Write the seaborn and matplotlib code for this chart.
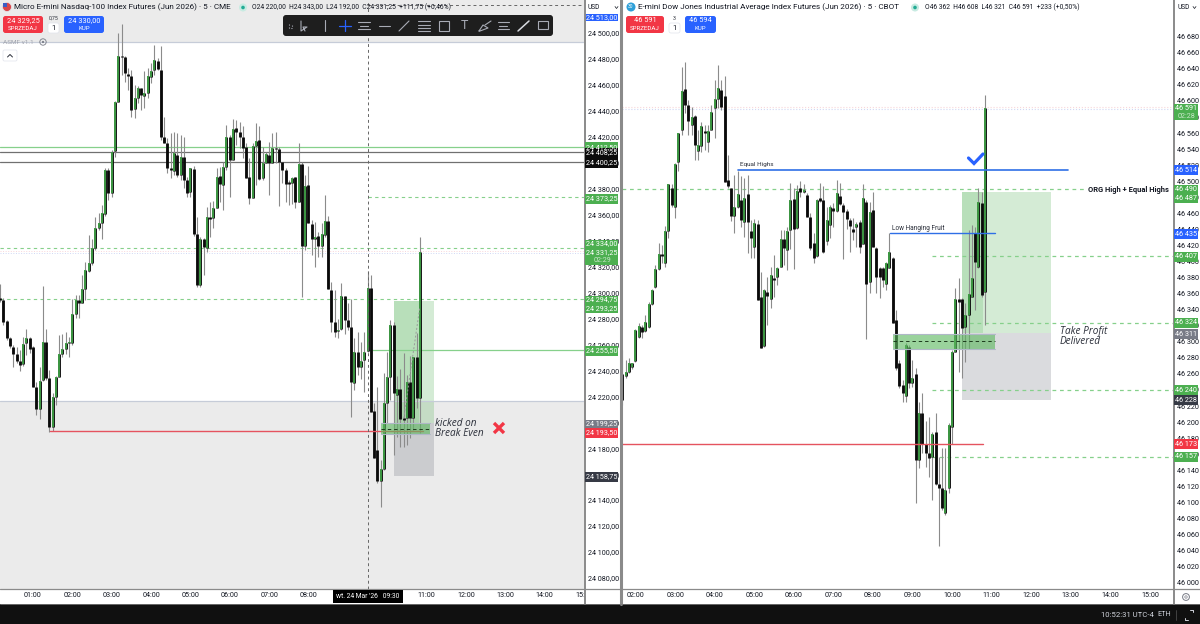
"""Two 5-minute futures charts side by side, with trade annotations."""

import matplotlib

matplotlib.use("Agg")

import matplotlib.pyplot as plt
import pandas as pd
import seaborn as sns
from matplotlib.patches import Circle, FancyBboxPatch, Rectangle

# Micro E-mini Nasdaq-100, bars start 00:10
nq_open = [24295.7, 24294.2, 24278.0, 24264.9, 24258.0, 24252.6, 24247.2, 24244.9, 24261.0, 24264.9,
           24258.0, 24227.2, 24210.2, 24232.5, 24261.8, 24234.1, 24196.3, 24219.4, 24234.8, 24252.6,
           24256.4, 24261.0, 24261.0, 24283.4, 24294.2, 24291.9, 24302.7, 24316.5, 24322.7, 24334.3,
           24349.7, 24353.5, 24360.5, 24394.4, 24376.7, 24409.0, 24446.8, 24482.2, 24481.5, 24468.4,
           24466.8, 24441.4, 24449.9, 24457.6, 24451.4, 24453.7, 24466.1, 24471.5, 24478.4, 24471.5,
           24419.8, 24415.2, 24395.9, 24393.6, 24405.9, 24390.5, 24404.4, 24386.7, 24377.4, 24395.1,
           24345.1, 24305.8, 24341.2, 24334.3, 24358.2, 24357.4, 24365.1, 24389.8, 24382.8, 24396.7,
           24419.8, 24402.1, 24426.7, 24423.7, 24419.8, 24412.1, 24389.0, 24372.8, 24412.9, 24417.5,
           24388.2, 24399.8, 24405.9, 24399.8, 24411.3, 24410.6, 24400.5, 24394.4, 24385.1, 24384.4,
           24389.0, 24369.7, 24399.0, 24335.8, 24382.8, 24352.8, 24341.2, 24343.5, 24335.8, 24344.3,
           24355.1, 24301.9, 24277.2, 24270.3, 24271.8, 24297.3, 24278.8, 24273.4, 24230.2, 24254.1,
           24242.6, 24247.9, 24254.9, 24303.4, 24208.6, 24178.6, 24154.7, 24163.9, 24214.8, 24234.8,
           24275.0, 24221.0, 24225.6, 24203.2, 24203.2, 24231.0, 24203.2, 24250.3, 24218.7]
nq_high = [24306.5, 24295.7, 24278.8, 24265.7, 24259.5, 24258.0, 24255.7, 24265.7, 24271.8, 24265.7,
           24258.7, 24231.0, 24242.6, 24305.0, 24271.8, 24240.2, 24222.5, 24235.6, 24267.2, 24268.0,
           24269.5, 24265.7, 24295.0, 24298.0, 24298.0, 24313.5, 24323.5, 24344.3, 24341.2, 24358.2,
           24361.2, 24367.4, 24395.9, 24395.9, 24409.8, 24447.6, 24500.0, 24506.9, 24482.2, 24473.0,
           24471.5, 24459.9, 24459.1, 24457.6, 24470.7, 24473.0, 24476.8, 24490.7, 24480.7, 24489.9,
           24435.2, 24419.0, 24422.9, 24423.7, 24422.9, 24421.4, 24419.8, 24389.0, 24395.9, 24397.5,
           24358.2, 24342.7, 24342.0, 24365.9, 24369.7, 24370.5, 24395.9, 24396.7, 24400.5, 24429.1,
           24421.4, 24433.7, 24432.9, 24431.4, 24428.3, 24415.2, 24403.6, 24415.2, 24430.6, 24428.3,
           24412.1, 24408.3, 24416.0, 24422.9, 24423.7, 24412.1, 24400.5, 24395.9, 24386.7, 24389.0,
           24389.0, 24415.2, 24400.5, 24390.5, 24397.5, 24355.8, 24354.3, 24346.6, 24353.5, 24375.1,
           24358.9, 24308.1, 24301.9, 24279.5, 24307.3, 24297.3, 24291.9, 24295.0, 24264.9, 24269.5,
           24261.8, 24269.5, 24316.5, 24313.5, 24214.8, 24227.2, 24170.9, 24237.9, 24254.1, 24278.8,
           24277.2, 24235.6, 24241.0, 24253.3, 24236.4, 24251.0, 24250.3, 24268.8, 24342.7]
nq_low = [24292.6, 24274.9, 24263.4, 24257.2, 24242.6, 24245.6, 24239.5, 24243.3, 24251.8, 24253.3,
          24227.2, 24205.6, 24202.5, 24231.8, 24232.5, 24192.5, 24193.2, 24213.3, 24234.8, 24250.3,
          24252.6, 24250.3, 24259.5, 24280.3, 24280.3, 24291.9, 24294.2, 24315.8, 24321.2, 24332.7,
          24348.1, 24341.2, 24358.9, 24371.3, 24373.6, 24404.4, 24446.8, 24467.6, 24462.2, 24456.0,
          24435.2, 24434.5, 24446.0, 24440.6, 24442.2, 24449.9, 24461.4, 24467.6, 24471.5, 24417.5,
          24415.2, 24392.1, 24388.2, 24390.5, 24389.0, 24386.7, 24380.5, 24373.6, 24373.6, 24343.5,
          24304.2, 24304.2, 24313.5, 24331.2, 24342.7, 24349.7, 24365.1, 24369.7, 24363.6, 24394.4,
          24373.6, 24402.1, 24413.6, 24411.3, 24403.6, 24388.2, 24368.2, 24372.8, 24382.8, 24386.7,
          24386.7, 24399.8, 24375.1, 24399.8, 24399.8, 24366.6, 24384.4, 24369.7, 24367.4, 24368.2,
          24365.1, 24369.7, 24296.5, 24332.7, 24353.5, 24328.9, 24319.6, 24327.3, 24327.3, 24342.7,
          24302.7, 24269.5, 24265.7, 24264.9, 24271.1, 24268.0, 24271.1, 24204.0, 24224.8, 24236.4,
          24233.3, 24223.3, 24254.1, 24207.9, 24172.4, 24153.2, 24134.7, 24163.2, 24199.4, 24217.1,
          24174.7, 24188.6, 24180.9, 24180.9, 24182.4, 24187.8, 24194.0, 24211.0, 24191.7]
nq_close = [24294.2, 24277.2, 24264.9, 24258.7, 24252.6, 24247.2, 24244.1, 24260.3, 24264.9, 24256.4,
            24227.2, 24210.2, 24231.8, 24261.8, 24234.1, 24196.3, 24219.4, 24234.8, 24252.6, 24256.4,
            24261.0, 24261.8, 24283.4, 24294.2, 24291.9, 24302.7, 24317.3, 24322.7, 24334.3, 24349.7,
            24353.5, 24361.2, 24394.4, 24376.7, 24408.3, 24446.8, 24482.2, 24481.5, 24469.1, 24466.8,
            24440.6, 24449.9, 24457.6, 24452.2, 24453.7, 24466.8, 24470.7, 24479.2, 24472.2, 24419.8,
            24415.2, 24395.9, 24394.4, 24407.5, 24390.5, 24404.4, 24386.7, 24376.7, 24395.9, 24345.1,
            24305.8, 24341.2, 24335.0, 24358.2, 24356.6, 24365.1, 24389.0, 24383.6, 24396.7, 24419.8,
            24402.1, 24426.0, 24423.7, 24419.8, 24411.3, 24388.2, 24372.8, 24412.9, 24416.7, 24387.4,
            24399.8, 24406.7, 24399.8, 24411.3, 24410.6, 24400.5, 24394.4, 24383.6, 24383.6, 24388.2,
            24369.7, 24399.0, 24335.8, 24382.1, 24353.5, 24341.2, 24342.7, 24335.8, 24345.1, 24355.1,
            24302.7, 24277.2, 24269.5, 24271.1, 24297.3, 24278.8, 24273.4, 24231.0, 24254.1, 24242.6,
            24247.2, 24254.1, 24303.4, 24207.9, 24172.4, 24154.7, 24163.9, 24214.8, 24234.8, 24275.0,
            24222.5, 24225.6, 24202.5, 24201.7, 24231.0, 24203.2, 24250.3, 24218.7, 24331.25]

# E-mini Dow, bars start 01:40
ym_open = [46228, 46257, 46262, 46269, 46276, 46306, 46318, 46313, 46318, 46347, 46368, 46391, 46409, 46398,
           46438, 46492, 46468, 46524, 46564, 46615, 46595, 46570, 46581, 46538, 46544, 46563, 46549, 46564,
           46591, 46603, 46614, 46606, 46502, 46492, 46457, 46468, 46477, 46449, 46484, 46438, 46418, 46447,
           46356, 46295, 46362, 46353, 46380, 46381, 46393, 46428, 46414, 46439, 46478, 46442, 46492, 46487,
           46483, 46455, 46423, 46407, 46479, 46477, 46426, 46445, 46467, 46463, 46482, 46470, 46463, 46452,
           46440, 46443, 46449, 46422, 46474, 46375, 46464, 46417, 46392, 46392, 46372, 46392, 46404, 46327,
           46274, 46246, 46233, 46294, 46249, 46260, 46153, 46211, 46173, 46162, 46157, 46188, 46123, 46118,
           46087, 46118, 46194, 46287, 46353, 46353, 46318, 46333, 46356, 46436, 46393, 46473, 46362]
ym_high = [46290, 46277, 46280, 46274, 46316, 46323, 46321, 46333, 46350, 46366, 46396, 46423, 46421, 46444,
           46497, 46497, 46523, 46560, 46642, 46649, 46601, 46593, 46583, 46564, 46574, 46570, 46570, 46595,
           46626, 46645, 46626, 46631, 46533, 46492, 46508, 46513, 46507, 46504, 46508, 46452, 46453, 46452,
           46387, 46366, 46381, 46393, 46408, 46393, 46439, 46439, 46443, 46498, 46492, 46495, 46500, 46497,
           46485, 46460, 46435, 46478, 46498, 46494, 46468, 46470, 46473, 46502, 46498, 46473, 46465, 46454,
           46454, 46449, 46452, 46497, 46477, 46474, 46487, 46418, 46393, 46393, 46399, 46435, 46406, 46340,
           46277, 46252, 46299, 46296, 46277, 46267, 46225, 46236, 46201, 46206, 46188, 46211, 46157, 46168,
           46168, 46199, 46290, 46367, 46380, 46355, 46348, 46439, 46445, 46443, 46492, 46487, 46607]
ym_low = [46221, 46255, 46261, 46266, 46275, 46305, 46305, 46312, 46317, 46346, 46367, 46389, 46398, 46393,
          46429, 46468, 46454, 46513, 46558, 46585, 46558, 46558, 46527, 46527, 46536, 46539, 46536, 46564,
          46554, 46591, 46589, 46499, 46492, 46451, 46435, 46467, 46443, 46431, 46411, 46404, 46404, 46352,
          46292, 46293, 46321, 46342, 46356, 46371, 46393, 46396, 46389, 46416, 46391, 46440, 46480, 46485,
          46455, 46414, 46398, 46406, 46474, 46411, 46421, 46429, 46443, 46462, 46470, 46403, 46440, 46412,
          46427, 46418, 46411, 46422, 46304, 46361, 46418, 46361, 46355, 46368, 46365, 46392, 46323, 46265,
          46243, 46225, 46225, 46243, 46244, 46099, 46143, 46162, 46144, 46132, 46103, 46122, 46046, 46091,
          46084, 46112, 46173, 46287, 46262, 46255, 46275, 46291, 46356, 46340, 46392, 46356, 46321]
ym_close = [46260, 46262, 46274, 46274, 46315, 46320, 46312, 46325, 46347, 46365, 46391, 46409, 46407, 46438,
            46497, 46470, 46522, 46560, 46612, 46595, 46575, 46580, 46545, 46545, 46569, 46560, 46563, 46586,
            46603, 46616, 46593, 46499, 46494, 46457, 46468, 46484, 46452, 46479, 46449, 46429, 46448, 46352,
            46292, 46365, 46357, 46383, 46377, 46392, 46428, 46417, 46438, 46477, 46440, 46488, 46487, 46489,
            46455, 46417, 46404, 46477, 46475, 46412, 46452, 46468, 46463, 46485, 46472, 46462, 46453, 46444,
            46437, 46447, 46418, 46479, 46372, 46462, 46418, 46381, 46381, 46377, 46398, 46412, 46323, 46267,
            46245, 46236, 46296, 46249, 46255, 46153, 46211, 46173, 46162, 46155, 46185, 46123, 46118, 46093,
            46115, 46196, 46287, 46353, 46350, 46317, 46333, 46360, 46380, 46399, 46474, 46358, 46591]

nq_start_hour = 10 / 60
ym_start_hour = 1 + 40 / 60
bar_minutes = 5

nq_price_ticks = list(range(24080, 24501, 20))
ym_price_ticks = list(range(46000, 46681, 20))
# 09:00 and 10:00 sit under the crosshair date label on the left chart
nq_hour_ticks = [1, 2, 3, 4, 5, 6, 7, 8, 11, 12, 13, 14, 15]
ym_hour_ticks = list(range(2, 16))

GREEN = "#3f9e45"
TAG_GREEN = "#4caf50"
RED = "#f23645"
BLUE = "#2962ff"
LINE_GREEN = "#86d08b"
SHADE = "#ebebeb"
DARK_TEXT = "#2a2e39"
AXIS_SIZE = 5.2


def build_bars(opens, highs, lows, closes, start_hour):
    """Long table of wick and body segments for one chart."""
    frame = pd.DataFrame({"open": opens, "high": highs, "low": lows, "close": closes})
    frame["bar"] = frame.index
    frame["time"] = start_hour + frame.index * bar_minutes / 60
    frame["up"] = frame["close"] >= frame["open"]
    return frame


def segments(frame, first, second):
    long_form = frame.melt(id_vars=["bar", "time"], value_vars=[first, second], value_name="price")
    return long_form.sort_values(["bar", "variable"])


def draw_candles(ax, frame):
    """Wicks, then black bodies, then green bodies, all through seaborn."""
    shared = dict(x="time", y="price", units="bar", estimator=None, sort=False, legend=False, ax=ax)
    sns.lineplot(data=segments(frame, "low", "high"), color="#8b8b8b", linewidth=0.8,
                 solid_capstyle="butt", zorder=3, **shared)
    bodies = segments(frame, "open", "close")
    sns.lineplot(data=bodies, color="#0a0a0a", linewidth=2.05, solid_capstyle="butt", zorder=4, **shared)
    green = segments(frame[frame["up"]], "open", "close")
    sns.lineplot(data=green, color=GREEN, linewidth=1.35, solid_capstyle="butt", zorder=5, **shared)


def style_axis(ax, price_ticks, price_labels, hour_ticks, xlim, ylim):
    ax.set_xlim(*xlim)
    ax.set_ylim(*ylim)
    ax.set_xlabel("")
    ax.set_ylabel("")
    ax.set_yticks(price_ticks)
    ax.set_yticklabels(price_labels)
    ax.set_xticks(hour_ticks)
    ax.set_xticklabels([f"{h:02d}:00" for h in hour_ticks])
    ax.yaxis.tick_right()
    ax.tick_params(axis="y", length=0, pad=3, labelsize=AXIS_SIZE, colors="#131722")
    ax.tick_params(axis="x", length=0, pad=2.5, labelsize=AXIS_SIZE, colors="#131722")
    for spine in ax.spines.values():
        spine.set_visible(False)


def position_box(ax, x0, x1, xmid, top, entry, stop):
    ax.fill_between([x0, x1], entry, top, color=TAG_GREEN, alpha=0.24, lw=0, zorder=1)
    ax.fill_between([x0, xmid], entry, top, color=TAG_GREEN, alpha=0.2, lw=0, zorder=1)
    ax.fill_between([x0, x1], stop, entry, color="#787b86", alpha=0.27, lw=0, zorder=1)


def zone_box(ax, x0, x1, low, high, mid):
    ax.fill_between([x0, x1], low, high, color="#5cb85f", alpha=0.62, lw=0, zorder=6)
    ax.plot([x0, x1], [high, high], color="#b0b8c8", lw=0.8, zorder=6)
    ax.plot([x0, x1], [low, low], color="#b0b8c8", lw=0.8, zorder=6)
    ax.plot([x0, x1], [mid, mid], color="#1c3a1c", lw=0.7, ls=(0, (3.5, 3)), zorder=7)


def hline(ax, price, color, x0=None, x1=None, lw=0.8, ls="-", zorder=2):
    left, right = ax.get_xlim()
    ax.plot([left if x0 is None else x0, right if x1 is None else x1], [price, price],
            color=color, lw=lw, ls=ls, zorder=zorder)


def tag_group(ui, x0, x1, top, bottom, color, texts):
    ui.add_patch(Rectangle((x0, top), x1 - x0, bottom - top, color=color, lw=0, zorder=2))
    for label, y, text_color in texts:
        ui.text((x0 + x1) / 2 + 0.5, y, label, color=text_color, fontsize=AXIS_SIZE, ha="center", va="center", zorder=3)


def button(ui, x0, x1, color, top_label, bottom_label):
    ui.add_patch(FancyBboxPatch((x0 + 1, 17), x1 - x0 - 2, 15, boxstyle="round,pad=1,rounding_size=2.5",
                                fc=color, ec="none", zorder=2))
    ui.text((x0 + x1) / 2, 20.5, top_label, color="white", fontsize=5.3, ha="center", va="center", zorder=3)
    ui.text((x0 + x1) / 2, 28.5, bottom_label, color="white", fontsize=4.4, ha="center", va="center", zorder=3)


def qty_box(ui, x0, top_label):
    ui.text(x0 + 5.5, 18.5, top_label, color=DARK_TEXT, fontsize=3.8, ha="center", va="center", zorder=3)
    ui.add_patch(FancyBboxPatch((x0 + 1, 24), 9, 8, boxstyle="round,pad=1,rounding_size=2",
                                fc="white", ec="#e0e3eb", lw=0.5, zorder=2))
    ui.text(x0 + 5.5, 28, "1", color="#131722", fontsize=5.4, ha="center", va="center", zorder=3)


def draw_toolbar(ui):
    ui.add_patch(FancyBboxPatch((285, 17), 266, 17, boxstyle="round,pad=2,rounding_size=3",
                                fc="#1e1e1e", ec="none", zorder=2))
    icon = dict(color="#a8abb5", lw=0.8, zorder=3)
    ui.plot([289, 289, 292, 292], [24, 28, 28, 24], ls=":", **icon)
    ui.plot([301, 301, 307, 303, 305], [21, 31, 27, 27, 31], **icon)
    ui.plot([325, 325], [20, 31], **icon)
    ui.plot([339, 351], [25.5, 25.5], color="#2962ff", lw=0.9, zorder=3)
    ui.plot([345, 345], [20, 31], color="#2962ff", lw=0.9, zorder=3)
    for y in (22, 29):
        ui.plot([358, 370], [y, y], **icon)
    ui.plot([360, 368], [25.5, 25.5], **icon)
    ui.plot([379, 390], [25.5, 25.5], **icon)
    ui.plot([399, 409], [31, 21], **icon)
    for y in (21, 24.5, 28, 31):
        ui.plot([418, 430], [y, y], **icon)
    ui.add_patch(Rectangle((439, 21), 10, 10, fc="none", ec="#a8abb5", lw=0.8, zorder=3))
    ui.text(464, 25.5, "T", color="#a8abb5", fontsize=9, ha="center", va="center", zorder=3)
    ui.plot([479, 483, 488, 480, 479], [31, 25, 28, 31, 31], **icon)
    ui.plot([485, 491], [25, 21], **icon)
    for y in (22, 29):
        ui.plot([498, 509], [y, y], **icon)
    ui.plot([499, 507], [25.5, 25.5], **icon)
    ui.plot([518, 529], [31, 21], color="#d8dae0", lw=1.1, zorder=3)
    ui.add_patch(Rectangle((538, 21), 10, 8, fc="none", ec="#a8abb5", lw=0.8, zorder=3))


def draw_chrome(ui):
    """Panels, headers, order buttons and price tags around the two charts."""
    ui.add_patch(Rectangle((585, 590), 36, 14, fc="white", ec="none", zorder=1))
    ui.add_patch(Rectangle((0, 604), 1200, 20, fc="#101010", ec="none", zorder=1))
    for x, width in ((584.5, 1.4), (621, 2.2), (1173.5, 1.4)):
        ui.plot([x, x], [0, 604], color="#8a8a8a", lw=width, zorder=2)
    ui.plot([0, 1200], [589, 589], color="#8a8a8a", lw=0.9, zorder=2)
    ui.plot([0, 1200], [604, 604], color="#777777", lw=0.6, zorder=2)

    # left header
    ui.add_patch(Circle((7, 7), 4.5, fc="#d8464a", ec="#e8eaf0", lw=0.5, zorder=2))
    ui.add_patch(Rectangle((2.5, 2.5), 4.5, 4, fc="#3b5cc4", ec="none", zorder=3))
    ui.text(14, 7.5, "Micro E-mini Nasdaq-100 Index Futures (Jun 2026) · 5 · CME", color="#131722",
            fontsize=5.9, va="center", zorder=3)
    ui.add_patch(Circle((243, 7.5), 4, fc="#c8ebe2", ec="none", zorder=2))
    ui.add_patch(Circle((243, 7.5), 1.8, fc="#22ab94", ec="none", zorder=3))
    ui.text(252, 7.5, "O24 220,00  H24 343,00  L24 192,00  C24 331,25  +111,75 (+0,46%)", color="#131722",
            fontsize=4.9, va="center", zorder=3)
    button(ui, 3, 43, RED, "24 329,25", "SPRZEDAJ")
    qty_box(ui, 48, "0,75")
    button(ui, 64, 104, BLUE, "24 330,00", "KUP")
    ui.text(3, 42, "ASMF v1.1", color="#a0a3ad", fontsize=4.6, va="center", zorder=3)
    ui.add_patch(Circle((43, 42), 3.2, fc="none", ec="#787b86", lw=0.6, zorder=3))
    ui.add_patch(Circle((43, 42), 1.1, fc="#787b86", ec="none", zorder=3))
    ui.add_patch(FancyBboxPatch((4, 51), 12, 9, boxstyle="round,pad=1,rounding_size=1.5",
                                fc="white", ec="#e0e3eb", lw=0.5, zorder=2))
    ui.plot([7.5, 10, 12.5], [57, 54.5, 57], color="#2a2e39", lw=0.7, zorder=3)
    draw_toolbar(ui)

    # right header
    ui.add_patch(Circle((631, 7), 4.5, fc="#2d9fd8", ec="none", zorder=2))
    ui.text(631, 7, "30", color="white", fontsize=3.5, ha="center", va="center", zorder=3)
    ui.text(638, 7.5, "E-mini Dow Jones Industrial Average Index Futures (Jun 2026) · 5 · CBOT", color="#131722",
            fontsize=5.9, va="center", zorder=3)
    ui.add_patch(Circle((915, 7.5), 4, fc="#c8ebe2", ec="none", zorder=2))
    ui.add_patch(Circle((915, 7.5), 1.8, fc="#22ab94", ec="none", zorder=3))
    ui.text(925, 7.5, "O46 362  H46 608  L46 321  C46 591  +233 (+0,50%)", color="#131722",
            fontsize=4.9, va="center", zorder=3)
    button(ui, 626, 664, RED, "46 591", "SPRZEDAJ")
    qty_box(ui, 669, "3")
    button(ui, 685, 716, BLUE, "46 594", "KUP")

    # currency boxes, with the crosshair price tag just peeking out below the left one
    ui.add_patch(Rectangle((585, 14), 33, 7, fc=BLUE, ec="none", zorder=1))
    ui.text(601.5, 18, "24 513,00", color="white", fontsize=AXIS_SIZE, ha="center", va="center", zorder=1)
    for x0, x1 in ((586, 620), (1175, 1198)):
        ui.add_patch(Rectangle((x0, 1), x1 - x0, 12, fc="white", ec="none", zorder=2))
        ui.text(x0 + 2, 7.5, "USD", color="#131722", fontsize=4.8, va="center", zorder=3)
        ui.plot([x1 - 5, x1 - 3.5, x1 - 2], [6.5, 8.5, 6.5], color="#131722", lw=0.5, zorder=3)

    # crosshair time label
    ui.add_patch(Rectangle((333, 590), 70, 12.5, fc="#000000", ec="none", zorder=2))
    ui.text(368, 596.5, "wt. 24 Mar '26   09:30", color="white", fontsize=4.9, ha="center", va="center", zorder=3)

    # left price tags
    tags_left = [
        (142, 153, TAG_GREEN, [("24 412,50", 147.5, "white")]),
        (148, 158, "#0b0b0b", [("24 408,25", 153, "white")]),
        (158, 168, "#0b0b0b", [("24 400,25", 163, "white")]),
        (194, 204, TAG_GREEN, [("24 373,25", 198.5, "white")]),
        (240, 265, TAG_GREEN, [("24 334,00", 244, "white"), ("24 331,25", 252.5, "white"), ("02:29", 260.5, "#c8e6c9")]),
        (296, 313, TAG_GREEN, [("24 294,75", 300, "white"), ("24 293,25", 309, "white")]),
        (346, 356, TAG_GREEN, [("24 255,50", 351, "white")]),
        (420, 428, "#787b86", [("24 199,25", 424, "white")]),
        (428, 438, RED, [("24 193,50", 433, "white")]),
        (472, 482, "#363a45", [("24 158,75", 477, "white")]),
    ]
    for top, bottom, color, texts in tags_left:
        tag_group(ui, 585, 618, top, bottom, color, texts)

    # right price tags
    tags_right = [
        (104, 120, TAG_GREEN, [("46 591", 108.5, "white"), ("02:28", 116, "#c8e6c9")]),
        (165, 175, BLUE, [("46 514", 170.5, "white")]),
        (185, 203, TAG_GREEN, [("46 490", 189.5, "white"), ("46 487", 198.5, "white")]),
        (229, 239, BLUE, [("46 435", 234, "white")]),
        (252, 262, TAG_GREEN, [("46 407", 257, "white")]),
        (318, 328, TAG_GREEN, [("46 324", 323, "white")]),
        (329, 339, "#787b86", [("46 311", 334, "white")]),
        (385, 395, TAG_GREEN, [("46 240", 390, "white")]),
        (395, 405, "#363a45", [("46 228", 400, "white")]),
        (439, 449, RED, [("46 173", 444, "white")]),
        (452, 462, TAG_GREEN, [("46 157", 457, "white")]),
    ]
    for top, bottom, color, texts in tags_right:
        tag_group(ui, 1173.5, 1198, top, bottom, color, texts)

    # annotations
    for dx in (-1, 1):
        ui.plot([499 - 5, 499 + 5], [428 - 5 * dx, 428 + 5 * dx], color=RED, lw=2.4, solid_capstyle="butt", zorder=3)
    ui.plot([968.5, 974, 983], [158, 163.5, 154], color=BLUE, lw=2.3, zorder=7, solid_joinstyle="miter")
    note = dict(family=["Open Sans", "DejaVu Sans"], style="italic", fontsize=7.2, color=DARK_TEXT, va="center", zorder=3)
    ui.text(435, 423, "kicked on", **note)
    ui.text(435, 433, "Break Even", **note)
    ui.text(1060, 331.5, "Take Profit", **note)
    ui.text(1060, 341, "Delivered", **note)
    ui.text(1088, 189.5, "ORG High + Equal Highs", color="#131722", fontsize=5.4, fontweight="bold", va="center", zorder=3)
    ui.text(740, 164.5, "Equal Highs", color=DARK_TEXT, fontsize=4.6, va="center", zorder=3)
    ui.text(892, 228.5, "Low Hanging Fruit", color=DARK_TEXT, fontsize=4.7, va="center", zorder=3)

    # bottom bar
    ui.text(1101, 615, "10:52:31 UTC-4", color="#d1d4dc", fontsize=5.6, va="center", zorder=3)
    ui.text(1157, 615, "ETH", color="#d1d4dc", fontsize=5.2, va="center", zorder=3)
    ui.plot([1176, 1176], [610, 620], color="#555555", lw=0.5, zorder=3)
    ui.plot([1185, 1185, 1188], [618, 620, 620], color="#d1d4dc", lw=0.7, zorder=3)
    ui.plot([1190, 1193, 1193], [610, 610, 612], color="#d1d4dc", lw=0.7, zorder=3)
    ui.add_patch(Circle((1186, 597), 3.4, fc="none", ec="#787b86", lw=0.7, zorder=3))
    ui.add_patch(Circle((1186, 597), 1.2, fc="none", ec="#787b86", lw=0.5, zorder=3))


def main():
    sns.set_theme(style="white")
    plt.rcParams["font.family"] = ["Roboto", "DejaVu Sans"]

    fig = plt.figure(figsize=(12, 6.24), dpi=100)
    fig.patch.set_facecolor("white")
    ax_nq = fig.add_axes([0, 35 / 624, 584 / 1200, 589 / 624])
    ax_ym = fig.add_axes([622 / 1200, 35 / 624, 551 / 1200, 589 / 624])
    ui = fig.add_axes([0, 0, 1, 1], zorder=5)
    ui.set_xlim(0, 1200)
    ui.set_ylim(624, 0)
    ui.axis("off")

    nq = build_bars(nq_open, nq_high, nq_low, nq_close, nq_start_hour)
    ym = build_bars(ym_open, ym_high, ym_low, ym_close, ym_start_hour)
    draw_candles(ax_nq, nq)
    draw_candles(ax_ym, ym)

    style_axis(ax_nq, nq_price_ticks, [f"{p // 1000} {p % 1000:03d},00" for p in nq_price_ticks],
               nq_hour_ticks, (0.1624, 14.985), (24071.5, 24525.4))
    style_axis(ax_ym, ym_price_ticks, [f"{p // 1000} {p % 1000:03d}" for p in ym_price_ticks],
               ym_hour_ticks, (1.659, 15.583), (45992.1, 46725.8))

    # premarket shading on the left chart
    ax_nq.axhspan(24071.5, 24216.4, color=SHADE, lw=0, zorder=0)
    ax_nq.axhspan(24493.0, 24525.4, color=SHADE, lw=0, zorder=0)
    hline(ax_nq, 24216.4, "#c6ccd8", lw=0.9)
    hline(ax_nq, 24493.0, "#c6ccd8", lw=0.9)

    # left chart levels
    hline(ax_nq, 24412.5, LINE_GREEN, lw=0.9)
    hline(ax_nq, 24408.25, "#707070", lw=0.9)
    hline(ax_nq, 24400.25, "#707070", lw=0.9)
    hline(ax_nq, 24334.0, LINE_GREEN, lw=0.8, ls=(0, (3, 3)))
    hline(ax_nq, 24294.75, LINE_GREEN, lw=0.8, ls=(0, (3, 3)))
    hline(ax_nq, 24373.25, LINE_GREEN, x0=9.5, lw=0.8, ls=(0, (3, 3)))
    hline(ax_nq, 24255.5, LINE_GREEN, x0=9.5, lw=0.9)
    hline(ax_nq, 24331.6, "#f8d7da", lw=0.7, ls=":")
    hline(ax_nq, 24330.2, "#cfd8f5", lw=0.7, ls=":")
    hline(ax_nq, 24193.5, "#e5535f", x0=1.43, x1=10.92, lw=1.0, zorder=6)
    position_box(ax_nq, 10.16, 11.18, 10.82, 24293.25, 24199.25, 24158.75)
    zone_box(ax_nq, 9.83, 11.1, 24190.9, 24199.4, 24194.8)
    ax_nq.plot([9.5, 9.5], [24071.5, 24525.4], color="#666666", lw=0.7, ls=(0, (3, 3)), zorder=6)
    hline(ax_nq, 24521.5, "#666666", x0=9.5, lw=0.7, ls=(0, (3, 3)))
    ax_nq.plot([10.42, 10.83], [24203.0, 24289.0], color="#9a9a9a", lw=0.7, ls=(0, (2, 2)), zorder=5)

    # right chart levels
    hline(ax_ym, 46592.5, "#f8d7da", lw=0.8, ls=":")
    hline(ax_ym, 46590.0, "#cfd8f5", lw=0.8, ls=":")
    hline(ax_ym, 46490.0, LINE_GREEN, x1=13.33, lw=0.9, ls=(0, (3, 3)))
    for price in (46407, 46324, 46240, 46157):
        hline(ax_ym, price, LINE_GREEN, x0=9.49, lw=0.9, ls=(0, (3, 3)))
    hline(ax_ym, 46514, "#2f6fe6", x0=4.6, x1=12.93, lw=1.2, zorder=6)
    hline(ax_ym, 46435, "#2f6fe6", x0=8.43, x1=11.08, lw=1.0, zorder=6)
    hline(ax_ym, 46173, "#e5535f", x1=10.78, lw=1.0, zorder=6)
    position_box(ax_ym, 10.25, 12.5, 10.78, 46487, 46311, 46228)
    zone_box(ax_ym, 8.5, 11.08, 46291, 46310, 46301)

    draw_chrome(ui)

    fig.savefig("out.png", dpi=100)
    plt.close(fig)


if __name__ == "__main__":
    main()
